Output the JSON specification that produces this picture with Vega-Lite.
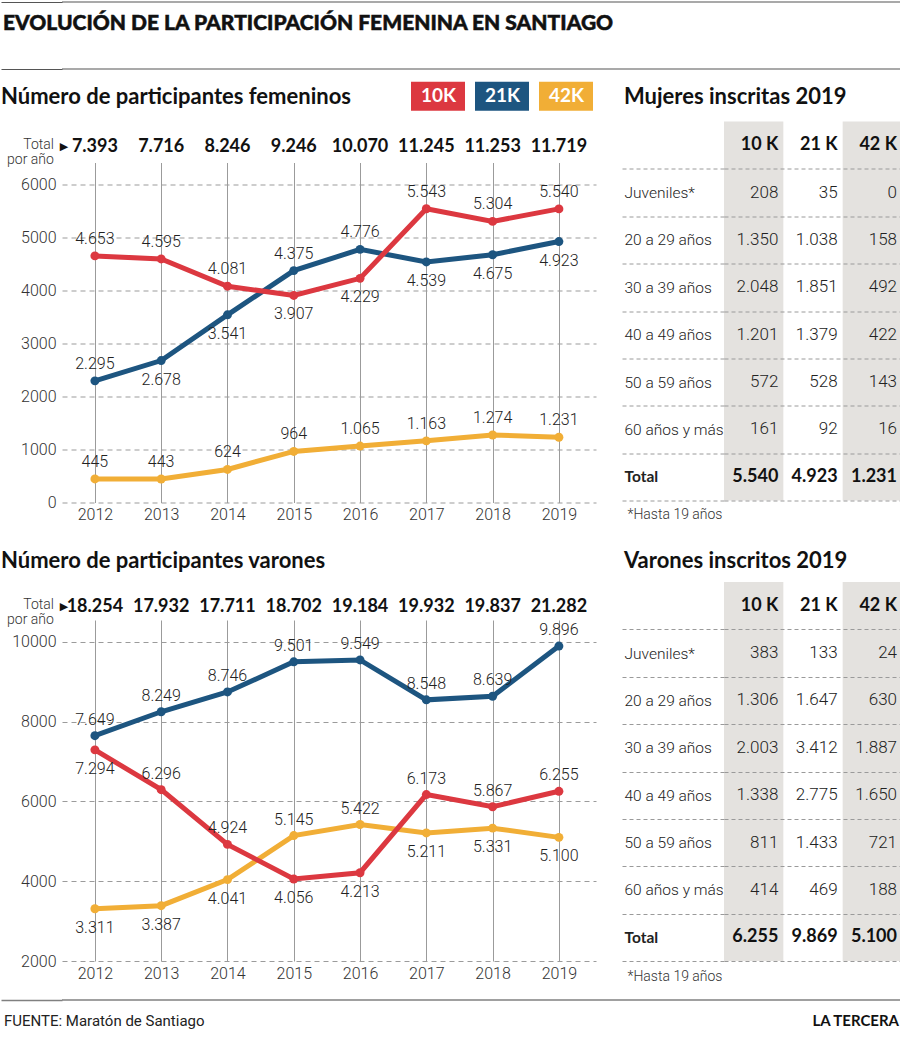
{
  "$schema": "https://vega.github.io/schema/vega-lite/v6.json",
  "padding": {"left": 0, "top": 1, "right": 0, "bottom": 0},
  "autosize": {"type": "pad"},
  "background": "white",
  "datasets": {
    "series": [
      {"sexo": "Mujeres", "dist": "42K", "anio": 2012, "participantes": 445},
      {"sexo": "Mujeres", "dist": "42K", "anio": 2013, "participantes": 443},
      {"sexo": "Mujeres", "dist": "42K", "anio": 2014, "participantes": 624},
      {"sexo": "Mujeres", "dist": "42K", "anio": 2015, "participantes": 964},
      {"sexo": "Mujeres", "dist": "42K", "anio": 2016, "participantes": 1065},
      {"sexo": "Mujeres", "dist": "42K", "anio": 2017, "participantes": 1163},
      {"sexo": "Mujeres", "dist": "42K", "anio": 2018, "participantes": 1274},
      {"sexo": "Mujeres", "dist": "42K", "anio": 2019, "participantes": 1231},
      {"sexo": "Mujeres", "dist": "21K", "anio": 2012, "participantes": 2295},
      {"sexo": "Mujeres", "dist": "21K", "anio": 2013, "participantes": 2678},
      {"sexo": "Mujeres", "dist": "21K", "anio": 2014, "participantes": 3541},
      {"sexo": "Mujeres", "dist": "21K", "anio": 2015, "participantes": 4375},
      {"sexo": "Mujeres", "dist": "21K", "anio": 2016, "participantes": 4776},
      {"sexo": "Mujeres", "dist": "21K", "anio": 2017, "participantes": 4539},
      {"sexo": "Mujeres", "dist": "21K", "anio": 2018, "participantes": 4675},
      {"sexo": "Mujeres", "dist": "21K", "anio": 2019, "participantes": 4923},
      {"sexo": "Mujeres", "dist": "10K", "anio": 2012, "participantes": 4653},
      {"sexo": "Mujeres", "dist": "10K", "anio": 2013, "participantes": 4595},
      {"sexo": "Mujeres", "dist": "10K", "anio": 2014, "participantes": 4081},
      {"sexo": "Mujeres", "dist": "10K", "anio": 2015, "participantes": 3907},
      {"sexo": "Mujeres", "dist": "10K", "anio": 2016, "participantes": 4229},
      {"sexo": "Mujeres", "dist": "10K", "anio": 2017, "participantes": 5543},
      {"sexo": "Mujeres", "dist": "10K", "anio": 2018, "participantes": 5304},
      {"sexo": "Mujeres", "dist": "10K", "anio": 2019, "participantes": 5540},
      {"sexo": "Varones", "dist": "42K", "anio": 2012, "participantes": 3311},
      {"sexo": "Varones", "dist": "42K", "anio": 2013, "participantes": 3387},
      {"sexo": "Varones", "dist": "42K", "anio": 2014, "participantes": 4041},
      {"sexo": "Varones", "dist": "42K", "anio": 2015, "participantes": 5145},
      {"sexo": "Varones", "dist": "42K", "anio": 2016, "participantes": 5422},
      {"sexo": "Varones", "dist": "42K", "anio": 2017, "participantes": 5211},
      {"sexo": "Varones", "dist": "42K", "anio": 2018, "participantes": 5331},
      {"sexo": "Varones", "dist": "42K", "anio": 2019, "participantes": 5100},
      {"sexo": "Varones", "dist": "21K", "anio": 2012, "participantes": 7649},
      {"sexo": "Varones", "dist": "21K", "anio": 2013, "participantes": 8249},
      {"sexo": "Varones", "dist": "21K", "anio": 2014, "participantes": 8746},
      {"sexo": "Varones", "dist": "21K", "anio": 2015, "participantes": 9501},
      {"sexo": "Varones", "dist": "21K", "anio": 2016, "participantes": 9549},
      {"sexo": "Varones", "dist": "21K", "anio": 2017, "participantes": 8548},
      {"sexo": "Varones", "dist": "21K", "anio": 2018, "participantes": 8639},
      {"sexo": "Varones", "dist": "21K", "anio": 2019, "participantes": 9896},
      {"sexo": "Varones", "dist": "10K", "anio": 2012, "participantes": 7294},
      {"sexo": "Varones", "dist": "10K", "anio": 2013, "participantes": 6296},
      {"sexo": "Varones", "dist": "10K", "anio": 2014, "participantes": 4924},
      {"sexo": "Varones", "dist": "10K", "anio": 2015, "participantes": 4056},
      {"sexo": "Varones", "dist": "10K", "anio": 2016, "participantes": 4213},
      {"sexo": "Varones", "dist": "10K", "anio": 2017, "participantes": 6173},
      {"sexo": "Varones", "dist": "10K", "anio": 2018, "participantes": 5867},
      {"sexo": "Varones", "dist": "10K", "anio": 2019, "participantes": 6255}
    ],
    "totales": [
      {"sexo": "Mujeres", "anio": 2012, "total": 7393},
      {"sexo": "Mujeres", "anio": 2013, "total": 7716},
      {"sexo": "Mujeres", "anio": 2014, "total": 8246},
      {"sexo": "Mujeres", "anio": 2015, "total": 9246},
      {"sexo": "Mujeres", "anio": 2016, "total": 10070},
      {"sexo": "Mujeres", "anio": 2017, "total": 11245},
      {"sexo": "Mujeres", "anio": 2018, "total": 11253},
      {"sexo": "Mujeres", "anio": 2019, "total": 11719},
      {"sexo": "Varones", "anio": 2012, "total": 18254},
      {"sexo": "Varones", "anio": 2013, "total": 17932},
      {"sexo": "Varones", "anio": 2014, "total": 17711},
      {"sexo": "Varones", "anio": 2015, "total": 18702},
      {"sexo": "Varones", "anio": 2016, "total": 19184},
      {"sexo": "Varones", "anio": 2017, "total": 19932},
      {"sexo": "Varones", "anio": 2018, "total": 19837},
      {"sexo": "Varones", "anio": 2019, "total": 21282}
    ],
    "inscritos": [
      {"sexo": "Mujeres", "grupo": "Juveniles*", "dist": "10K", "inscritos": 208},
      {"sexo": "Mujeres", "grupo": "Juveniles*", "dist": "21K", "inscritos": 35},
      {"sexo": "Mujeres", "grupo": "Juveniles*", "dist": "42K", "inscritos": 0},
      {"sexo": "Mujeres", "grupo": "20 a 29 años", "dist": "10K", "inscritos": 1350},
      {"sexo": "Mujeres", "grupo": "20 a 29 años", "dist": "21K", "inscritos": 1038},
      {"sexo": "Mujeres", "grupo": "20 a 29 años", "dist": "42K", "inscritos": 158},
      {"sexo": "Mujeres", "grupo": "30 a 39 años", "dist": "10K", "inscritos": 2048},
      {"sexo": "Mujeres", "grupo": "30 a 39 años", "dist": "21K", "inscritos": 1851},
      {"sexo": "Mujeres", "grupo": "30 a 39 años", "dist": "42K", "inscritos": 492},
      {"sexo": "Mujeres", "grupo": "40 a 49 años", "dist": "10K", "inscritos": 1201},
      {"sexo": "Mujeres", "grupo": "40 a 49 años", "dist": "21K", "inscritos": 1379},
      {"sexo": "Mujeres", "grupo": "40 a 49 años", "dist": "42K", "inscritos": 422},
      {"sexo": "Mujeres", "grupo": "50 a 59 años", "dist": "10K", "inscritos": 572},
      {"sexo": "Mujeres", "grupo": "50 a 59 años", "dist": "21K", "inscritos": 528},
      {"sexo": "Mujeres", "grupo": "50 a 59 años", "dist": "42K", "inscritos": 143},
      {"sexo": "Mujeres", "grupo": "60 años y más", "dist": "10K", "inscritos": 161},
      {"sexo": "Mujeres", "grupo": "60 años y más", "dist": "21K", "inscritos": 92},
      {"sexo": "Mujeres", "grupo": "60 años y más", "dist": "42K", "inscritos": 16},
      {"sexo": "Mujeres", "grupo": "Total", "dist": "10K", "inscritos": 5540},
      {"sexo": "Mujeres", "grupo": "Total", "dist": "21K", "inscritos": 4923},
      {"sexo": "Mujeres", "grupo": "Total", "dist": "42K", "inscritos": 1231},
      {"sexo": "Varones", "grupo": "Juveniles*", "dist": "10K", "inscritos": 383},
      {"sexo": "Varones", "grupo": "Juveniles*", "dist": "21K", "inscritos": 133},
      {"sexo": "Varones", "grupo": "Juveniles*", "dist": "42K", "inscritos": 24},
      {"sexo": "Varones", "grupo": "20 a 29 años", "dist": "10K", "inscritos": 1306},
      {"sexo": "Varones", "grupo": "20 a 29 años", "dist": "21K", "inscritos": 1647},
      {"sexo": "Varones", "grupo": "20 a 29 años", "dist": "42K", "inscritos": 630},
      {"sexo": "Varones", "grupo": "30 a 39 años", "dist": "10K", "inscritos": 2003},
      {"sexo": "Varones", "grupo": "30 a 39 años", "dist": "21K", "inscritos": 3412},
      {"sexo": "Varones", "grupo": "30 a 39 años", "dist": "42K", "inscritos": 1887},
      {"sexo": "Varones", "grupo": "40 a 49 años", "dist": "10K", "inscritos": 1338},
      {"sexo": "Varones", "grupo": "40 a 49 años", "dist": "21K", "inscritos": 2775},
      {"sexo": "Varones", "grupo": "40 a 49 años", "dist": "42K", "inscritos": 1650},
      {"sexo": "Varones", "grupo": "50 a 59 años", "dist": "10K", "inscritos": 811},
      {"sexo": "Varones", "grupo": "50 a 59 años", "dist": "21K", "inscritos": 1433},
      {"sexo": "Varones", "grupo": "50 a 59 años", "dist": "42K", "inscritos": 721},
      {"sexo": "Varones", "grupo": "60 años y más", "dist": "10K", "inscritos": 414},
      {"sexo": "Varones", "grupo": "60 años y más", "dist": "21K", "inscritos": 469},
      {"sexo": "Varones", "grupo": "60 años y más", "dist": "42K", "inscritos": 188},
      {"sexo": "Varones", "grupo": "Total", "dist": "10K", "inscritos": 6255},
      {"sexo": "Varones", "grupo": "Total", "dist": "21K", "inscritos": 9869},
      {"sexo": "Varones", "grupo": "Total", "dist": "42K", "inscritos": 5100}
    ],
    "bordes": [{"borde": "superior"}, {"borde": "inferior"}],
    "titulo": [{"titulo": "EVOLUCIÓN DE LA PARTICIPACIÓN FEMENINA EN SANTIAGO"}],
    "pie": [{"pie": "FUENTE: Maratón de Santiago"}, {"pie": "LA TERCERA"}]
  },
  "columns": 1,
  "align": "none",
  "spacing": 15.5,
  "concat": [
    {
      "width": 839,
      "height": 67,
      "layer": [
        {
          "data": {"name": "bordes"},
          "mark": {"type": "rule", "color": "#555555", "strokeWidth": 1.2},
          "encoding": {
            "y": {"field": "borde", "type": "nominal", "scale": {"type": "point", "padding": 0, "domain": ["superior", "inferior"]},
              "axis": {"title": null, "orient": "left", "labels": false, "domain": false, "grid": false, "ticks": true, "tickSize": 61, "tickColor": "#555555", "tickWidth": 1.2}}
          }
        },
        {
          "data": {"name": "titulo"},
          "mark": {"type": "text", "align": "left", "baseline": "middle", "dx": -59, "dy": -12, "font": "Lato", "fontWeight": 900, "fontSize": 21, "color": "#111111", "stroke": "#111111", "strokeWidth": 0.5},
          "encoding": {
            "x": {"field": "titulo", "type": "nominal", "scale": {"type": "point", "padding": 0, "align": 0}, "axis": null},
            "text": {"field": "titulo"}
          }
        }
      ]
    },
    {
      "columns": 1,
      "align": "none",
      "spacing": 27.5,
      "concat": [
        {
          "spacing": 25,
          "hconcat": [
            {
              "spacing": 0,
              "bounds": "flush",
              "vconcat": [
                {
                  "width": 534,
                  "height": 41,
                  "title": {"text": "Número de participantes femeninos", "dx": -61, "offset": 12.5},
                  "layer": [
                    {
                      "data": {"name": "totales"},
                      "transform": [{"filter": "datum.sexo == 'Mujeres'"}],
                      "mark": {"type": "text", "font": "Lato", "fontWeight": "bold", "fontSize": 18, "baseline": "middle", "dy": 5, "color": "#111111"},
                      "encoding": {
                        "x": {"field": "anio", "type": "ordinal", "scale": {"type": "point", "padding": 0.528, "align": 0.47}, "axis": null},
                        "text": {"field": "total", "format": ",d"}
                      }
                    },
                    {
                      "data": {"values": [{}]},
                      "mark": {"type": "text", "align": "right", "baseline": "middle", "dx": -41, "dy": 3, "lineHeight": 15, "fontSize": 14, "fontWeight": 300, "color": "#333333"},
                      "encoding": {
                        "x": {"datum": 2012, "type": "ordinal"},
                        "text": {"value": ["Total", "por año"]}
                      }
                    },
                    {
                      "data": {"values": [{}]},
                      "mark": {"type": "text", "align": "center", "baseline": "middle", "dx": -31, "dy": 5, "font": "DejaVu Sans", "fontSize": 11, "color": "#111111"},
                      "encoding": {
                        "x": {"datum": 2012, "type": "ordinal"},
                        "text": {"value": "▶"}
                      }
                    }
                  ]
                },
                {
                  "width": 534,
                  "height": 340,
                  "data": {"name": "series"},
                  "transform": [{"filter": "datum.sexo == 'Mujeres'"}],
                  "encoding": {
                    "x": {"field": "anio", "type": "ordinal", "scale": {"type": "point", "padding": 0.528, "align": 0.47},
                      "axis": {"title": null, "domain": false, "ticks": false, "grid": true, "gridColor": "#9b9b9b", "gridWidth": 1, "labelAngle": 0, "labelPadding": 4, "labelFontSize": 16, "labelFontWeight": 300, "labelColor": "#333333"}},
                    "y": {"field": "participantes", "type": "quantitative", "scale": {"domain": [0, 6415], "nice": false, "zero": false},
                      "axis": {"title": null, "values": [0, 1000, 2000, 3000, 4000, 5000, 6000], "format": "d", "domain": false, "ticks": false, "grid": true, "gridDash": [5, 4], "gridColor": "#9b9b9b", "gridWidth": 1, "labelPadding": 6, "labelFontSize": 16, "labelFontWeight": 300, "labelColor": "#333333"}}
                  },
                  "layer": [
                    {
                      "mark": {"type": "line", "strokeWidth": 5, "point": {"filled": true, "size": 80}},
                      "encoding": {
                        "color": {"field": "dist", "type": "nominal", "scale": {"domain": ["10K", "21K", "42K"], "range": ["#dc3840", "#1d5580", "#f1ae36"]},
                          "legend": {"title": null, "orient": "none", "legendX": 349, "legendY": 67, "direction": "horizontal", "padding": 0, "columnPadding": 10, "symbolType": "M-1,-0.54H1V0.54H-1Z", "symbolSize": 2916, "symbolStrokeWidth": 0, "symbolOpacity": 1, "labelOffset": -44, "labelAlign": "left", "labelBaseline": "middle", "labelColor": "#ffffff", "labelFont": "Lato", "labelFontWeight": "bold", "labelFontSize": 19,
                            "encode": {"symbols": {"update": {"fill": {"scale": "color", "field": "value"}, "stroke": {"value": "transparent"}, "opacity": {"value": 1}}}}}}
                      }
                    },
                    {
                      "transform": [{"filter": "!((datum.dist == '10K' && (datum.anio == 2015 || datum.anio == 2016)) || (datum.dist == '21K' && datum.anio != 2012 && datum.anio != 2015 && datum.anio != 2016))"}],
                      "mark": {"type": "text", "baseline": "middle", "dy": -17, "font": "Roboto", "fontSize": 16, "fontWeight": 300, "color": "#222222"},
                      "encoding": {"text": {"field": "participantes", "format": ",d"}}
                    },
                    {
                      "transform": [{"filter": "(datum.dist == '10K' && (datum.anio == 2015 || datum.anio == 2016)) || (datum.dist == '21K' && datum.anio != 2012 && datum.anio != 2015 && datum.anio != 2016)"}],
                      "mark": {"type": "text", "baseline": "middle", "dy": 19, "font": "Roboto", "fontSize": 16, "fontWeight": 300, "color": "#222222"},
                      "encoding": {"text": {"field": "participantes", "format": ",d"}}
                    }
                  ]
                }
              ]
            },
            {
              "width": 178,
              "height": 379,
              "title": {"text": "Mujeres inscritas 2019", "dx": -100, "offset": 12.5},
              "data": {"name": "inscritos"},
              "transform": [{"filter": "datum.sexo == 'Mujeres'"}, {"calculate": "replace(datum.dist, 'K', ' K')", "as": "cabecera"}],
              "layer": [
                {
                  "transform": [{"filter": "datum.grupo == 'Total' && datum.dist != '21K'"}],
                  "mark": {"type": "rect", "color": "#e4e2df"},
                  "encoding": {
                    "x": {"field": "dist", "type": "nominal", "scale": {"domain": ["10K", "21K", "42K"], "paddingInner": 0, "paddingOuter": 0},
                      "axis": {"title": "*Hasta 19 años", "orient": "bottom", "labels": false, "ticks": false, "domain": false, "grid": false, "titleX": -97, "titleY": 14, "titleAlign": "left", "titleAnchor": "start", "titleBaseline": "middle", "titleFont": "Roboto", "titleFontSize": 14, "titleFontWeight": 300, "titleColor": "#333333"}}
                  }
                },
                {
                  "transform": [{"filter": "datum.grupo != 'Total'"}],
                  "mark": {"type": "text", "align": "right", "baseline": "middle", "dx": -5, "font": "Roboto", "fontSize": 17, "fontWeight": 300, "color": "#222222"},
                  "encoding": {
                    "x": {"field": "dist", "type": "nominal", "bandPosition": 1},
                    "y": {"field": "grupo", "type": "nominal", "scale": {"domain": ["encabezado", "Juveniles*", "20 a 29 años", "30 a 39 años", "40 a 49 años", "50 a 59 años", "60 años y más", "Total"], "paddingInner": 0, "paddingOuter": 0},
                      "axis": {"title": null, "orient": "left", "domain": false, "ticks": true, "tickSize": 102, "tickDash": [4, 3], "tickColor": "#9a9a9a", "tickWidth": 1, "grid": true, "gridDash": [4, 3], "gridColor": "#9a9a9a", "gridWidth": 1, "tickOffset": 23.69, "labelAlign": "left", "labelBaseline": "middle", "labelPadding": -2, "labelOffset": -23.69, "labelFont": {"condition": {"test": "datum.value == 'Total'", "value": "Lato"}, "value": "Roboto"}, "labelFontSize": 15.5, "labelFontWeight": {"condition": {"test": "datum.value == 'Total'", "value": "bold"}, "value": 300}, "labelColor": "#222222", "labelExpr": "datum.value == 'encabezado' ? '' : datum.value", "zindex": 1}},
                    "text": {"field": "inscritos", "format": ",d"}
                  }
                },
                {
                  "transform": [{"filter": "datum.grupo == 'Total'"}],
                  "mark": {"type": "text", "align": "right", "baseline": "middle", "dx": -5, "font": "Lato", "fontSize": 18, "fontWeight": "bold", "color": "#111111"},
                  "encoding": {
                    "x": {"field": "dist", "type": "nominal", "bandPosition": 1},
                    "y": {"field": "grupo", "type": "nominal"},
                    "text": {"field": "inscritos", "format": ",d"}
                  }
                },
                {
                  "transform": [{"filter": "datum.grupo == 'Total'"}],
                  "mark": {"type": "text", "align": "right", "baseline": "middle", "dx": -5, "font": "Lato", "fontSize": 18, "fontWeight": "bold", "color": "#111111"},
                  "encoding": {
                    "x": {"field": "dist", "type": "nominal", "bandPosition": 1},
                    "y": {"datum": "encabezado", "type": "nominal"},
                    "text": {"field": "cabecera"}
                  }
                }
              ]
            }
          ]
        },
        {
          "columns": 1,
          "align": "none",
          "spacing": 16,
          "concat": [
            {
              "spacing": 25,
              "hconcat": [
                {
                  "spacing": 0,
                  "bounds": "flush",
                  "vconcat": [
                    {
                      "width": 534,
                      "height": 38,
                      "title": {"text": "Número de participantes varones", "dx": -61, "offset": 8.7},
                      "layer": [
                        {
                          "data": {"name": "totales"},
                          "transform": [{"filter": "datum.sexo == 'Varones'"}],
                          "mark": {"type": "text", "font": "Lato", "fontWeight": "bold", "fontSize": 18, "baseline": "middle", "dy": 6, "color": "#111111"},
                          "encoding": {
                            "x": {"field": "anio", "type": "ordinal", "scale": {"type": "point", "padding": 0.528, "align": 0.47}, "axis": null},
                            "text": {"field": "total", "format": ",d"}
                          }
                        },
                        {
                          "data": {"values": [{}]},
                          "mark": {"type": "text", "align": "right", "baseline": "middle", "dx": -41, "dy": 4, "lineHeight": 15, "fontSize": 14, "fontWeight": 300, "color": "#333333"},
                          "encoding": {
                            "x": {"datum": 2012, "type": "ordinal"},
                            "text": {"value": ["Total", "por año"]}
                          }
                        },
                        {
                          "data": {"values": [{}]},
                          "mark": {"type": "text", "align": "center", "baseline": "middle", "dx": -31, "dy": 6, "font": "DejaVu Sans", "fontSize": 11, "color": "#111111"},
                          "encoding": {
                            "x": {"datum": 2012, "type": "ordinal"},
                            "text": {"value": "▶"}
                          }
                        }
                      ]
                    },
                    {
                      "width": 534,
                      "height": 341,
                      "data": {"name": "series"},
                      "transform": [{"filter": "datum.sexo == 'Varones'"}],
                      "encoding": {
                        "x": {"field": "anio", "type": "ordinal", "scale": {"type": "point", "padding": 0.528, "align": 0.47},
                          "axis": {"title": null, "domain": false, "ticks": false, "grid": true, "gridColor": "#9b9b9b", "gridWidth": 1, "labelAngle": 0, "labelPadding": 4, "labelFontSize": 16, "labelFontWeight": 300, "labelColor": "#333333"}},
                        "y": {"field": "participantes", "type": "quantitative", "scale": {"domain": [2000, 10550], "nice": false, "zero": false},
                          "axis": {"title": null, "values": [2000, 4000, 6000, 8000, 10000], "format": "d", "domain": false, "ticks": false, "grid": true, "gridDash": [5, 4], "gridColor": "#9b9b9b", "gridWidth": 1, "labelPadding": 6, "labelFontSize": 16, "labelFontWeight": 300, "labelColor": "#333333"}}
                      },
                      "layer": [
                        {
                          "mark": {"type": "line", "strokeWidth": 5, "point": {"filled": true, "size": 80}},
                          "encoding": {
                            "color": {"field": "dist", "type": "nominal", "scale": {"domain": ["10K", "21K", "42K"], "range": ["#dc3840", "#1d5580", "#f1ae36"]},
                              "legend": {"title": null, "orient": "none", "legendX": 349, "legendY": 67, "direction": "horizontal", "padding": 0, "columnPadding": 10, "symbolType": "M-1,-0.54H1V0.54H-1Z", "symbolSize": 2916, "symbolStrokeWidth": 0, "symbolOpacity": 1, "labelOffset": -44, "labelAlign": "left", "labelBaseline": "middle", "labelColor": "#ffffff", "labelFont": "Lato", "labelFontWeight": "bold", "labelFontSize": 19,
                                "encode": {"symbols": {"update": {"fill": {"scale": "color", "field": "value"}, "stroke": {"value": "transparent"}, "opacity": {"value": 1}}}}}}
                          }
                        },
                        {
                          "transform": [{"filter": "!((datum.dist == '10K' && (datum.anio == 2012 || datum.anio == 2015 || datum.anio == 2016)) || (datum.dist == '42K' && datum.anio != 2015 && datum.anio != 2016))"}],
                          "mark": {"type": "text", "baseline": "middle", "dy": -16, "font": "Roboto", "fontSize": 16, "fontWeight": 300, "color": "#222222"},
                          "encoding": {"text": {"field": "participantes", "format": ",d"}}
                        },
                        {
                          "transform": [{"filter": "(datum.dist == '10K' && (datum.anio == 2012 || datum.anio == 2015 || datum.anio == 2016)) || (datum.dist == '42K' && datum.anio != 2015 && datum.anio != 2016)"}],
                          "mark": {"type": "text", "baseline": "middle", "dy": 19, "font": "Roboto", "fontSize": 16, "fontWeight": 300, "color": "#222222"},
                          "encoding": {"text": {"field": "participantes", "format": ",d"}}
                        }
                      ]
                    }
                  ]
                },
                {
                  "width": 178,
                  "height": 379,
                  "title": {"text": "Varones inscritos 2019", "dx": -100, "offset": 8.7},
                  "data": {"name": "inscritos"},
                  "transform": [{"filter": "datum.sexo == 'Varones'"}, {"calculate": "replace(datum.dist, 'K', ' K')", "as": "cabecera"}],
                  "layer": [
                    {
                      "transform": [{"filter": "datum.grupo == 'Total' && datum.dist != '21K'"}],
                      "mark": {"type": "rect", "color": "#e4e2df"},
                      "encoding": {
                        "x": {"field": "dist", "type": "nominal", "scale": {"domain": ["10K", "21K", "42K"], "paddingInner": 0, "paddingOuter": 0},
                          "axis": {"title": "*Hasta 19 años", "orient": "bottom", "labels": false, "ticks": false, "domain": false, "grid": false, "titleX": -97, "titleY": 15, "titleAlign": "left", "titleAnchor": "start", "titleBaseline": "middle", "titleFont": "Roboto", "titleFontSize": 14, "titleFontWeight": 300, "titleColor": "#333333"}}
                      }
                    },
                    {
                      "transform": [{"filter": "datum.grupo != 'Total'"}],
                      "mark": {"type": "text", "align": "right", "baseline": "middle", "dx": -5, "font": "Roboto", "fontSize": 17, "fontWeight": 300, "color": "#222222"},
                      "encoding": {
                        "x": {"field": "dist", "type": "nominal", "bandPosition": 1},
                        "y": {"field": "grupo", "type": "nominal", "scale": {"domain": ["encabezado", "Juveniles*", "20 a 29 años", "30 a 39 años", "40 a 49 años", "50 a 59 años", "60 años y más", "Total"], "paddingInner": 0, "paddingOuter": 0},
                          "axis": {"title": null, "orient": "left", "domain": false, "ticks": true, "tickSize": 102, "tickDash": [4, 3], "tickColor": "#9a9a9a", "tickWidth": 1, "grid": true, "gridDash": [4, 3], "gridColor": "#9a9a9a", "gridWidth": 1, "tickOffset": 23.69, "labelAlign": "left", "labelBaseline": "middle", "labelPadding": -2, "labelOffset": -23.69, "labelFont": {"condition": {"test": "datum.value == 'Total'", "value": "Lato"}, "value": "Roboto"}, "labelFontSize": 15.5, "labelFontWeight": {"condition": {"test": "datum.value == 'Total'", "value": "bold"}, "value": 300}, "labelColor": "#222222", "labelExpr": "datum.value == 'encabezado' ? '' : datum.value", "zindex": 1}},
                        "text": {"field": "inscritos", "format": ",d"}
                      }
                    },
                    {
                      "transform": [{"filter": "datum.grupo == 'Total'"}],
                      "mark": {"type": "text", "align": "right", "baseline": "middle", "dx": -5, "font": "Lato", "fontSize": 18, "fontWeight": "bold", "color": "#111111"},
                      "encoding": {
                        "x": {"field": "dist", "type": "nominal", "bandPosition": 1},
                        "y": {"field": "grupo", "type": "nominal"},
                        "text": {"field": "inscritos", "format": ",d"}
                      }
                    },
                    {
                      "transform": [{"filter": "datum.grupo == 'Total'"}],
                      "mark": {"type": "text", "align": "right", "baseline": "middle", "dx": -5, "font": "Lato", "fontSize": 18, "fontWeight": "bold", "color": "#111111"},
                      "encoding": {
                        "x": {"field": "dist", "type": "nominal", "bandPosition": 1},
                        "y": {"datum": "encabezado", "type": "nominal"},
                        "text": {"field": "cabecera"}
                      }
                    }
                  ]
                }
              ]
            },
            {
              "width": 839,
              "height": 42,
              "layer": [
                {
                  "data": {"name": "bordes"},
                  "transform": [{"filter": "datum.borde == 'superior'"}],
                  "mark": {"type": "rule", "color": "#808080", "strokeWidth": 1.5},
                  "encoding": {
                    "y": {"field": "borde", "type": "nominal", "scale": {"type": "point", "padding": 0, "align": 0},
                      "axis": {"title": null, "orient": "left", "labels": false, "domain": false, "grid": false, "ticks": true, "tickSize": 61, "tickColor": "#808080", "tickWidth": 1.5}}
                  }
                },
                {
                  "data": {"name": "pie"},
                  "transform": [{"filter": "datum.pie != 'LA TERCERA'"}],
                  "mark": {"type": "text", "align": "left", "baseline": "middle", "dx": -58, "font": "Roboto", "fontSize": 15, "color": "#222222"},
                  "encoding": {
                    "x": {"field": "pie", "type": "nominal", "scale": {"type": "point", "padding": 0, "domain": ["FUENTE: Maratón de Santiago", "LA TERCERA"]}, "axis": null},
                    "text": {"field": "pie"}
                  }
                },
                {
                  "data": {"name": "pie"},
                  "transform": [{"filter": "datum.pie == 'LA TERCERA'"}],
                  "mark": {"type": "text", "align": "right", "baseline": "middle", "dx": -2, "font": "Lato", "fontWeight": "bold", "fontSize": 15, "color": "#111111"},
                  "encoding": {
                    "x": {"field": "pie", "type": "nominal", "axis": null},
                    "text": {"field": "pie"}
                  }
                }
              ]
            }
          ]
        }
      ]
    }
  ],
  "config": {
    "view": {"stroke": null},
    "font": "Roboto",
    "locale": {"number": {"decimal": ",", "thousands": ".", "grouping": [3], "currency": ["$", ""]}},
    "title": {"font": "Lato", "fontSize": 22, "fontWeight": "bold", "color": "#111111", "anchor": "start", "baseline": "alphabetic", "frame": "group"},
    "axis": {"labelFont": "Roboto", "titleFont": "Roboto"}
  }
}
